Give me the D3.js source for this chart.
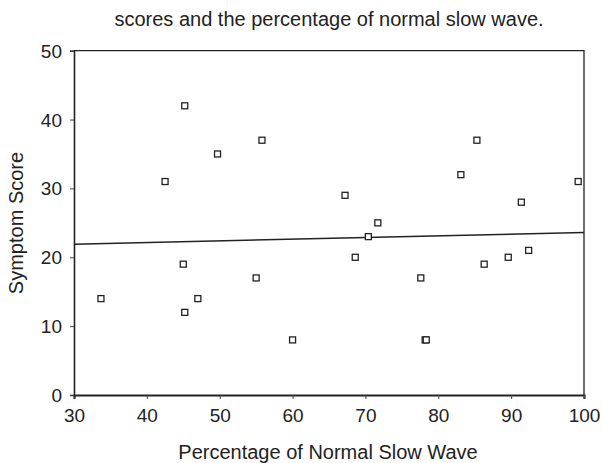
<!DOCTYPE html>
<html>
<head>
<meta charset="utf-8">
<script src="https://cdn.jsdelivr.net/npm/d3@7"></script>
<style>
  body { margin: 0; background: #fff; }
  text { font-family: "Liberation Sans", Arial, sans-serif; fill: #222; }
</style>
</head>
<body>
<div class="chart"></div>
<script>
// Percentage of normal slow wave vs symptom score
var slowWave = [45.2, 55.8, 49.7, 42.5, 45.0, 55.0, 33.7, 47.0, 45.2, 60.0,
                85.3, 83.1, 99.2, 67.2, 91.4, 71.7, 70.4, 92.4, 68.6, 89.6,
                86.3, 77.6, 78.2, 78.35];
var symptomScore = [42, 37, 35, 31, 19, 17, 14, 14, 12, 8,
                    37, 32, 31, 29, 28, 25, 23, 21, 20, 20,
                    19, 17, 8, 8];

// trend line end points
var trendX = [30, 100];
var trendY = [21.9, 23.6];

var xTicks = [30, 40, 50, 60, 70, 80, 90, 100];
var yTicks = [0, 10, 20, 30, 40, 50];

var width = 602, height = 463;
var margin = {top: 50.7, right: 18, bottom: 68, left: 74};

var svg = d3.select(".chart").append("svg")
  .attr("width", width)
  .attr("height", height);

var xScale = d3.scaleLinear().domain([30, 100]).range([margin.left, width - margin.right]);
var yScale = d3.scaleLinear().domain([0, 50]).range([height - margin.bottom, margin.top]);

// Title
svg.append("text")
  .attr("x", 329)
  .attr("y", 26)
  .attr("text-anchor", "middle")
  .style("font-size", "20px")
  .text("scores and the percentage of normal slow wave.");

// plot frame (top and right)
svg.append("path")
  .attr("d", "M" + xScale(30) + "," + yScale(50) + "H" + xScale(100) + "V" + yScale(0))
  .attr("fill", "none")
  .attr("stroke", "#222")
  .attr("stroke-width", 1.3);

// Axes
var xAxis = svg.append("g")
  .attr("transform", "translate(0," + yScale(0) + ")")
  .call(d3.axisBottom(xScale).tickValues(xTicks).tickSizeOuter(0).tickSize(4).tickPadding(10));

var yAxis = svg.append("g")
  .attr("transform", "translate(" + xScale(30) + ",0)")
  .call(d3.axisLeft(yScale).tickValues(yTicks).tickSizeOuter(0).tickSize(4).tickPadding(8));

xAxis.select(".domain").attr("stroke", "#222").attr("stroke-width", 2.2);
yAxis.select(".domain").attr("stroke", "#222").attr("stroke-width", 1.6);
svg.selectAll(".tick line").attr("stroke", "#444").attr("stroke-width", 1);
svg.selectAll(".tick text")
  .style("font-size", "19px")
  .attr("fill", "#222")
  .attr("font-family", "Liberation Sans, Arial, sans-serif");
yAxis.selectAll(".tick text").attr("dy", "0.34em");

// Axis labels
svg.append("text")
  .attr("x", 328)
  .attr("y", 459)
  .attr("text-anchor", "middle")
  .style("font-size", "20px")
  .text("Percentage of Normal Slow Wave");

svg.append("text")
  .attr("transform", "translate(23,223) rotate(-90)")
  .attr("text-anchor", "middle")
  .style("font-size", "20px")
  .text("Symptom Score");

// Trend line
var line = d3.line()
  .x(function(d) { return xScale(d[0]); })
  .y(function(d) { return yScale(d[1]); });

svg.append("path")
  .datum(d3.zip(trendX, trendY))
  .attr("d", line)
  .attr("fill", "none")
  .attr("stroke", "#222")
  .attr("stroke-width", 1.4);

// Points
var points = d3.zip(slowWave, symptomScore);
var size = 6;

svg.selectAll("rect.point").data(points)
  .enter().append("rect")
    .attr("class", "point")
    .attr("x", function(d) { return xScale(d[0]) - size / 2; })
    .attr("y", function(d) { return yScale(d[1]) - size / 2; })
    .attr("width", size)
    .attr("height", size)
    .attr("fill", "#fff")
    .attr("stroke", "#222")
    .attr("stroke-width", 1.3);
</script>
</body>
</html>
